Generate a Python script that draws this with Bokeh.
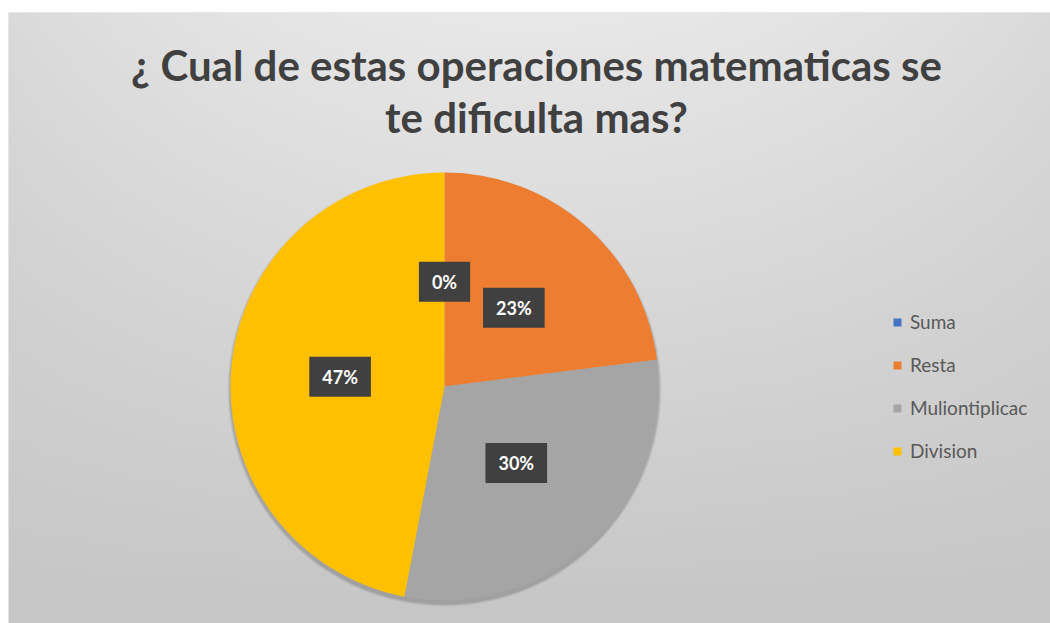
import numpy as np
from bokeh.plotting import figure
from bokeh.models import Range1d, Legend, LegendItem, ColumnDataSource
from bokeh.core.properties import value
from bokeh.embed import file_html
from bokeh.resources import INLINE

# ---- data ----
categories = ["Suma", "Resta", "Muliontiplicac", "Division"]
percents = [0, 23, 30, 47]
colors = ["#4472C4", "#ED7D31", "#A5A5A5", "#FFC000"]
title_lines = ["¿ Cual de estas operaciones matematicas se", "te dificulta mas?"]

W, H = 1050, 623
LEFT, TOP = 8, 12
FW, FH = W - LEFT, H - TOP

p = figure(width=W, height=H, output_backend="svg", toolbar_location=None,
           x_range=Range1d(0, FW), y_range=Range1d(0, FH),
           min_border_left=LEFT, min_border_right=0, min_border_bottom=0,
           min_border_top=TOP, border_fill_color="white",
           background_fill_color="#d8d8d8")
p.axis.visible = False
p.grid.visible = False
p.outline_line_color = None

# background gradient (style only)
ny, nx = 120, 200
yy = np.linspace(0, 1, ny)[:, None]   # 0 bottom -> 1 top
xx = np.linspace(-1, 1, nx)[None, :]
g = 198 + 34 * yy - 14 * (xx ** 2) * yy
g = np.clip(g, 0, 255).astype(np.uint8)
img = np.empty((ny, nx), dtype=np.uint32)
view = img.view(dtype=np.uint8).reshape((ny, nx, 4))
view[:, :, 0] = g
view[:, :, 1] = g
view[:, :, 2] = g
view[:, :, 3] = 255
p.image_rgba(image=[img], x=0, y=0, dw=FW, dh=FH)

# pie
cx, cy, R = 436, 237, 214
vals = np.array(percents, dtype=float)
frac = vals / vals.sum()
cum = np.concatenate([[0], np.cumsum(frac)])
starts = np.pi / 2 - cum[:-1] * 2 * np.pi
ends = np.pi / 2 - cum[1:] * 2 * np.pi
mids = (starts + ends) / 2

# soft shadow
for k, a in [(6, 0.05), (4, 0.07), (2, 0.08)]:
    p.circle(x=[cx], y=[cy - 3], radius=R + k * 0.5, fill_color="black",
             fill_alpha=a, line_color=None)

renderers = []
for i in range(len(categories)):
    if frac[i] > 0:
        r = p.wedge(x=cx, y=cy, radius=R, start_angle=starts[i], end_angle=ends[i],
                    direction="clock", fill_color=colors[i], line_color=None)
    else:
        r = p.quad(left=[cx], right=[cx], bottom=[cy], top=[cy],
                   fill_color=colors[i], line_color=None)
    renderers.append(r)

# data labels
lr = 0.49 * R
lab = ColumnDataSource(dict(
    x=cx + lr * np.cos(mids), y=cy + lr * np.sin(mids),
    text=[f"{v}%" for v in percents]))
p.text(x="x", y="y", text="text", source=lab, text_color="white",
       text_font=value("Lato"), text_font_style="bold", text_font_size="18px",
       text_align="center", text_baseline="middle",
       background_fill_color="#404040", padding=(13, 9))

# title
p.text(x=[528, 528], y=[559, 507], text=title_lines, text_color="#404040",
       text_font=value("Lato"), text_font_style="bold", text_font_size="42px",
       text_align="center", text_baseline="middle")

# legend
items = [LegendItem(label=categories[i], renderers=[renderers[i]]) for i in range(len(categories))]
legend = Legend(items=items, location=(874, 151), orientation="vertical",
                glyph_width=10, glyph_height=10, label_standoff=8,
                label_height=20, spacing=20, padding=10, margin=0,
                label_text_font="Lato",
                label_text_font_size="19px", label_text_color="#595959",
                background_fill_alpha=0, border_line_alpha=0)
p.add_layout(legend, "center")

open("out.html", "w").write(file_html(p, INLINE))
